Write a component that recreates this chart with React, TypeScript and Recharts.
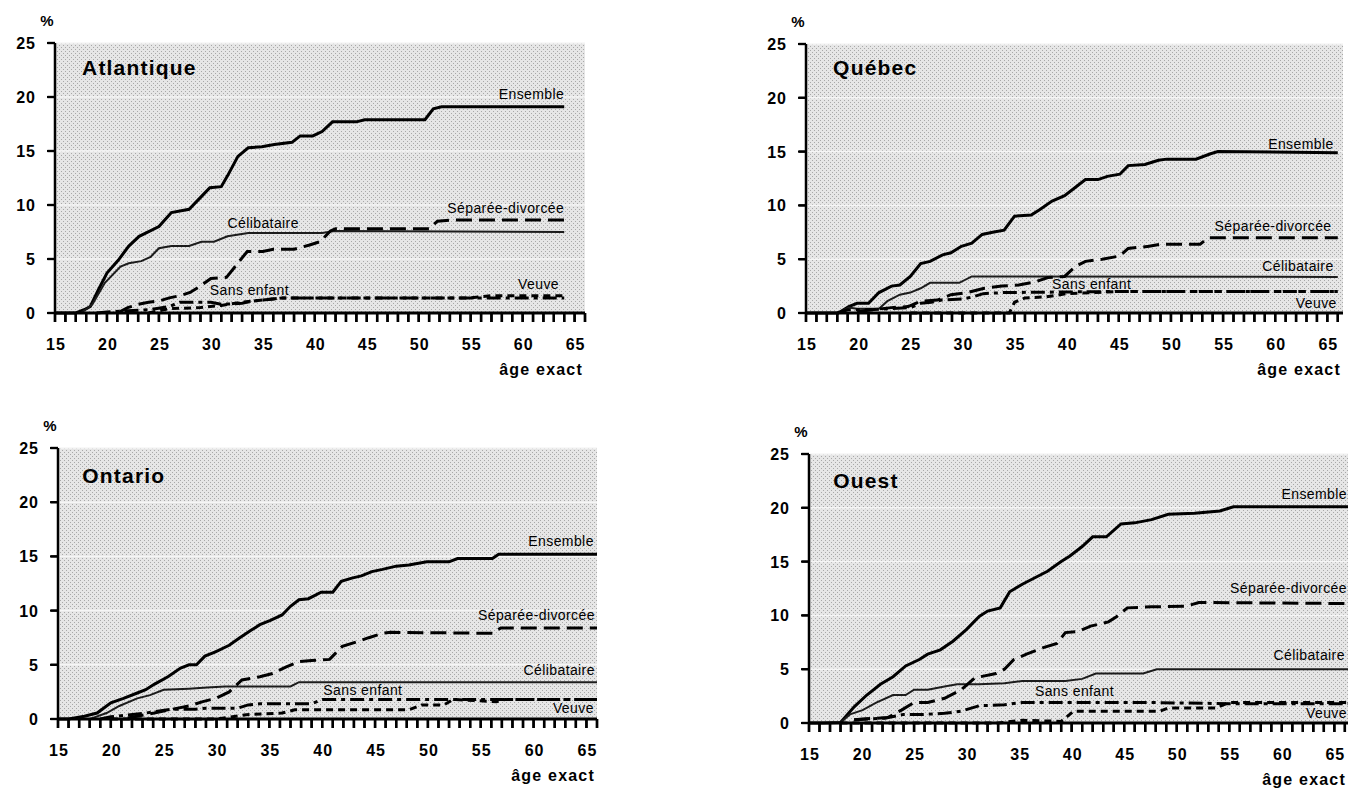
import React from 'react'
import { LineChart, Line, XAxis, YAxis, CartesianGrid, ReferenceDot } from 'recharts'

type Pt = [number, number]

// age exact (years), cumulative %
const atlantiqueEnsemble: Pt[] = [[15, 0], [17, 0], [17.8, 0.3], [18.4, 0.6], [19.2, 2.2], [20, 3.7], [21.1, 4.9], [22.1, 6.2], [23.1, 7.1], [25, 8], [26.2, 9.3], [27.9, 9.6], [29.1, 10.8], [29.9, 11.6], [31, 11.7], [31.6, 12.7], [32.6, 14.5], [33.6, 15.3], [34.9, 15.4], [36.1, 15.6], [37.8, 15.8], [38.6, 16.4], [39.8, 16.4], [40.7, 16.8], [41.7, 17.7], [44, 17.7], [44.8, 17.9], [50.6, 17.9], [51.4, 18.9], [52.2, 19.1], [64, 19.1]]
const atlantiqueCelibataire: Pt[] = [[17.5, 0], [18.6, 0.8], [19.8, 2.8], [21.3, 4.3], [22.1, 4.6], [23.3, 4.8], [24.2, 5.2], [25, 6], [26.2, 6.2], [27.9, 6.2], [29.1, 6.6], [30.3, 6.6], [31.6, 7.1], [33.6, 7.4], [40.7, 7.4], [41.9, 7.6], [64, 7.5]]
const atlantiqueSeparee: Pt[] = [[21, 0], [22, 0.5], [23, 0.8], [24, 1.0], [25, 1.1], [26, 1.4], [27, 1.6], [28, 1.9], [29, 2.5], [30, 3.2], [31.5, 3.3], [32.5, 4.5], [33.5, 5.7], [35, 5.7], [36, 5.9], [38, 5.9], [39.5, 6.3], [40.5, 6.6], [41.5, 7.6], [42, 7.8], [51, 7.8], [51.8, 8.5], [53, 8.6], [64, 8.6]]
const atlantiqueSansEnfant: Pt[] = [[19, 0], [20, 0.1], [22, 0.2], [24, 0.3], [26, 0.6], [27, 1.0], [30, 1.0], [31, 0.8], [33, 0.9], [34, 1.1], [36, 1.3], [37, 1.4], [64, 1.4]]
const atlantiqueVeuve: Pt[] = [[24, 0], [25, 0.2], [26, 0.4], [29, 0.5], [31, 0.7], [33, 1.0], [35, 1.2], [37, 1.4], [55, 1.4], [57, 1.6], [64, 1.6]]

const quebecEnsemble: Pt[] = [[15, 0], [18.1, 0], [19.1, 0.6], [19.9, 0.9], [21, 0.9], [22, 1.9], [23.2, 2.5], [24, 2.6], [25, 3.4], [26, 4.6], [26.9, 4.8], [28.1, 5.4], [28.9, 5.6], [29.9, 6.2], [30.9, 6.5], [31.9, 7.3], [32.9, 7.5], [34, 7.7], [35, 9.0], [36.6, 9.1], [37.4, 9.6], [38.6, 10.4], [39.8, 10.9], [40.6, 11.5], [41.8, 12.4], [43, 12.4], [43.9, 12.7], [45.1, 12.9], [45.9, 13.7], [47.5, 13.8], [48.8, 14.2], [49.6, 14.3], [52.4, 14.3], [53.8, 14.8], [54.5, 15.0], [66, 14.9]]
const quebecCelibataire: Pt[] = [[18.1, 0], [19.1, 0.5], [19.9, 0.4], [22, 0.4], [22.8, 1.1], [24, 1.7], [25, 1.9], [26, 2.3], [26.9, 2.8], [29.7, 2.8], [30.9, 3.4], [66, 3.35]]
const quebecSeparee: Pt[] = [[19.9, 0.15], [23.2, 0.5], [24.8, 0.6], [26, 1.1], [27.6, 1.2], [28.9, 1.7], [30.5, 1.9], [32.1, 2.3], [33.8, 2.5], [35.4, 2.6], [37, 2.9], [38.2, 3.3], [39.8, 3.4], [40.8, 4.3], [41.8, 4.8], [43.4, 5.0], [45.1, 5.3], [45.9, 6.0], [47.9, 6.2], [49.1, 6.4], [52.8, 6.4], [53.6, 7.0], [66, 7.0]]
const quebecSansEnfant: Pt[] = [[18, 0], [19, 0.3], [21, 0.3], [23, 0.4], [25, 0.5], [26, 0.9], [27, 1.0], [28, 1.2], [30, 1.3], [31, 1.5], [32, 1.8], [34, 1.9], [45, 2.0], [66, 2.0]]
const quebecVeuve: Pt[] = [[25, 0], [34.5, 0], [35, 1.0], [36, 1.4], [38, 1.5], [40, 1.8], [45, 2.0], [66, 2.0]]

const ontarioEnsemble: Pt[] = [[15, 0], [16, 0], [17.5, 0.25], [18.7, 0.55], [20, 1.5], [21.2, 1.9], [22.5, 2.4], [23.3, 2.7], [24.1, 3.2], [25.4, 3.9], [26.6, 4.7], [27.4, 5.0], [28.1, 5.0], [28.9, 5.8], [29.9, 6.2], [31.2, 6.8], [32.2, 7.5], [33.3, 8.2], [34.1, 8.7], [35.1, 9.1], [36.2, 9.6], [37, 10.4], [37.8, 11.0], [38.7, 11.1], [39.9, 11.7], [41, 11.7], [41.8, 12.7], [42.8, 13.0], [43.7, 13.2], [44.7, 13.6], [45.7, 13.8], [47, 14.1], [48.2, 14.2], [49.9, 14.5], [52, 14.5], [52.8, 14.8], [56.1, 14.8], [56.7, 15.2], [66, 15.2]]
const ontarioCelibataire: Pt[] = [[18, 0], [18.3, 0.1], [19.6, 0.55], [20.8, 1.2], [22.5, 1.9], [23.7, 2.2], [25, 2.7], [27.4, 2.8], [29.1, 2.9], [30.8, 3.0], [37, 3.0], [37.8, 3.4], [66, 3.4]]
const ontarioSeparee: Pt[] = [[21.6, 0.1], [24.1, 0.55], [25.8, 0.9], [27.4, 1.2], [28.7, 1.6], [29.9, 1.9], [31.2, 2.5], [32.4, 3.6], [34.1, 3.9], [35.3, 4.2], [36.6, 4.8], [37.8, 5.3], [39, 5.4], [40.7, 5.5], [41.9, 6.7], [43.2, 7.1], [44.4, 7.5], [45.7, 7.9], [46.5, 8.0], [56.1, 7.9], [56.9, 8.4], [66, 8.4]]
const ontarioSansEnfant: Pt[] = [[19, 0], [20, 0.2], [23.3, 0.55], [25.8, 0.9], [28, 0.9], [29, 1.0], [32, 1.0], [33, 1.3], [34.1, 1.4], [39, 1.4], [40, 1.8], [66, 1.8]]
const ontarioVeuve: Pt[] = [[20, 0], [30, 0], [32.8, 0.4], [36.2, 0.55], [37.4, 0.85], [48.2, 0.85], [49.4, 1.3], [51.5, 1.3], [52.4, 1.8], [56.5, 1.6], [57.3, 1.8], [66, 1.8]]

const ouestEnsemble: Pt[] = [[15, 0], [16.4, 0], [18, 0.05], [19.3, 1.5], [20.5, 2.6], [21.8, 3.6], [23, 4.3], [24.2, 5.3], [25.5, 5.9], [26.3, 6.4], [27.5, 6.8], [28.7, 7.6], [30, 8.7], [31.2, 9.9], [32, 10.4], [33.2, 10.7], [34.1, 12.2], [35.3, 12.9], [36.5, 13.5], [37.7, 14.1], [39, 15.0], [39.8, 15.5], [41, 16.4], [42, 17.3], [43.3, 17.3], [44.7, 18.5], [46, 18.6], [47.6, 18.9], [49.2, 19.4], [51.7, 19.5], [54.1, 19.7], [55.4, 20.1], [66.3, 20.1]]
const ouestCelibataire: Pt[] = [[18, 0.05], [18.9, 0.8], [20.1, 1.2], [21.4, 1.9], [23, 2.6], [24.2, 2.6], [25, 3.1], [26.3, 3.1], [27.9, 3.4], [29.1, 3.6], [31.2, 3.6], [33.6, 3.7], [35.3, 3.9], [39.4, 3.9], [41, 4.1], [42.3, 4.6], [46.8, 4.6], [48.1, 5.0], [66.3, 5.0]]
const ouestSeparee: Pt[] = [[19.3, 0.3], [20.5, 0.4], [22.5, 0.5], [23.8, 1.2], [25, 1.9], [26.3, 1.9], [27.9, 2.3], [29.5, 3.1], [30.8, 4.2], [32.8, 4.6], [33.6, 5.0], [34.5, 5.9], [35.7, 6.4], [37.3, 7.0], [38.6, 7.4], [39.4, 8.4], [40.6, 8.5], [41.8, 9.0], [43.5, 9.4], [44.3, 9.9], [45.3, 10.7], [47.6, 10.8], [50.9, 10.85], [52.1, 11.2], [66.3, 11.1]]
const ouestSansEnfant: Pt[] = [[19.3, 0.3], [22.2, 0.45], [24, 0.8], [25.9, 0.8], [27.9, 0.9], [29.5, 1.1], [31.2, 1.6], [33.6, 1.7], [35.3, 1.9], [47.6, 1.9], [55, 1.8], [66.3, 1.8]]
const ouestVeuve: Pt[] = [[18, 0], [33, 0], [35.3, 0.25], [39, 0.15], [40.2, 1.1], [48.4, 1.1], [49.2, 1.4], [53.7, 1.4], [55, 1.9], [66.3, 1.9]]

const yTicks = [0, 5, 10, 15, 20, 25]
const xLabelTicks = [15, 20, 25, 30, 35, 40, 45, 50, 55, 60, 65]
const years = Array.from({ length: 52 }, (_, i) => 15 + i)

const FONT = '"Liberation Sans", Arial, Helvetica, sans-serif'

const seriesStyle = [
  { name: 'Ensemble', width: 3, dash: undefined, color: '#000' },
  { name: 'Célibataire', width: 2, dash: undefined, color: '#1c1c1c' },
  { name: 'Séparée-divorcée', width: 3, dash: '16 7', color: '#000' },
  { name: 'Sans enfant', width: 3, dash: '14 5 4 5', color: '#000' },
  { name: 'Veuve', width: 3, dash: '7 5', color: '#000' },
]

type Anno = { text: string; x: number; y: number; anchor: 'start' | 'end' }

const panels = [
  {
    title: 'Atlantique', left: 55, top: 43, right: 585, bottom: 313, xMax: 66, titleAt: [17.6, 22.0],
    series: [atlantiqueEnsemble, atlantiqueCelibataire, atlantiqueSeparee, atlantiqueSansEnfant, atlantiqueVeuve],
    annos: [
      { text: 'Ensemble', x: 64, y: 19.8, anchor: 'end' },
      { text: 'Séparée-divorcée', x: 64, y: 9.3, anchor: 'end' },
      { text: 'Célibataire', x: 31.6, y: 7.9, anchor: 'start' },
      { text: 'Sans enfant', x: 29.9, y: 1.7, anchor: 'start' },
      { text: 'Veuve', x: 63.5, y: 2.2, anchor: 'end' },
    ] as Anno[],
  },
  {
    title: 'Québec', left: 806, top: 44, right: 1343, bottom: 313, xMax: 66.5, titleAt: [17.6, 22.1],
    series: [quebecEnsemble, quebecCelibataire, quebecSeparee, quebecSansEnfant, quebecVeuve],
    annos: [
      { text: 'Ensemble', x: 65.6, y: 15.2, anchor: 'end' },
      { text: 'Séparée-divorcée', x: 65.4, y: 7.6, anchor: 'end' },
      { text: 'Célibataire', x: 65.6, y: 3.9, anchor: 'end' },
      { text: 'Sans enfant', x: 38.6, y: 2.2, anchor: 'start' },
      { text: 'Veuve', x: 65.9, y: 0.5, anchor: 'end' },
    ] as Anno[],
  },
  {
    title: 'Ontario', left: 58, top: 448, right: 597, bottom: 719, xMax: 66, titleAt: [17.3, 21.8],
    series: [ontarioEnsemble, ontarioCelibataire, ontarioSeparee, ontarioSansEnfant, ontarioVeuve],
    annos: [
      { text: 'Ensemble', x: 65.7, y: 16.0, anchor: 'end' },
      { text: 'Séparée-divorcée', x: 65.8, y: 9.1, anchor: 'end' },
      { text: 'Célibataire', x: 65.8, y: 4.1, anchor: 'end' },
      { text: 'Sans enfant', x: 40.1, y: 2.2, anchor: 'start' },
      { text: 'Veuve', x: 65.7, y: 0.55, anchor: 'end' },
    ] as Anno[],
  },
  {
    title: 'Ouest', left: 809, top: 454, right: 1348, bottom: 723, xMax: 66.3, titleAt: [17.3, 21.8],
    series: [ouestEnsemble, ouestCelibataire, ouestSeparee, ouestSansEnfant, ouestVeuve],
    annos: [
      { text: 'Ensemble', x: 66.2, y: 20.8, anchor: 'end' },
      { text: 'Séparée-divorcée', x: 66.2, y: 12.1, anchor: 'end' },
      { text: 'Célibataire', x: 66.0, y: 5.9, anchor: 'end' },
      { text: 'Sans enfant', x: 36.5, y: 2.5, anchor: 'start' },
      { text: 'Veuve', x: 66.2, y: 0.5, anchor: 'end' },
    ] as Anno[],
  },
]

const AXIS_W = 50
const M_TOP = 40
const M_RIGHT = 8
const AXIS_H = 72

// tick mark on every year, number every 5 years
function XTick(props: any) {
  const { x, y, payload } = props
  return (
    <g>
      <line x1={x} x2={x} y1={y - 10} y2={y - 1} stroke="#000" strokeWidth={2.4} />
      {xLabelTicks.includes(payload.value) && (
        <text x={x + 1} y={y + 27} textAnchor="middle" fontSize={16} fontWeight="bold" letterSpacing={1} fill="#000" fontFamily={FONT}>
          {payload.value}
        </text>
      )}
    </g>
  )
}

function YTick(props: any) {
  const { x, y, payload } = props
  return (
    <g>
      <line x1={x + 11} x2={x + 19} y1={y} y2={y} stroke="#000" strokeWidth={2.2} />
      <text x={x} y={y + 6} textAnchor="end" fontSize={16} fontWeight="bold" letterSpacing={1} fill="#000" fontFamily={FONT}>
        {payload.value}
      </text>
    </g>
  )
}

function PointText(props: any) {
  const { viewBox, text, anchor, size = 14, bold = false, spacing = 0.4 } = props
  if (!viewBox) return null
  const cx = viewBox.x + viewBox.width / 2
  const cy = viewBox.y + viewBox.height / 2
  return (
    <text x={cx} y={cy} textAnchor={anchor} fontSize={size} fontWeight={bold ? 'bold' : 'normal'} letterSpacing={spacing} fill="#000" fontFamily={FONT}>
      {text}
    </text>
  )
}

function AgeLabel(props: any) {
  const { viewBox } = props
  if (!viewBox) return null
  return (
    <text x={viewBox.x + viewBox.width - 2} y={viewBox.y + 62} textAnchor="end" fontSize={16} fontWeight="bold" letterSpacing={1.2} fill="#000" fontFamily={FONT}>
      âge exact
    </text>
  )
}

function PctLabel(props: any) {
  const { viewBox } = props
  if (!viewBox) return null
  return (
    <text x={viewBox.x + viewBox.width - 8} y={viewBox.y - 17} textAnchor="middle" fontSize={15} fontWeight="bold" fill="#000" fontFamily={FONT}>
      %
    </text>
  )
}

function Panel({ p }: { p: (typeof panels)[number] }) {
  const plotW = p.right - p.left
  const plotH = p.bottom - p.top
  const width = AXIS_W + plotW + M_RIGHT
  const height = M_TOP + plotH + AXIS_H
  return (
    <div style={{ position: 'absolute', left: p.left - AXIS_W, top: p.top - M_TOP }}>
      <LineChart width={width} height={height} margin={{ top: M_TOP, right: M_RIGHT, bottom: 0, left: 0 }}>
        <CartesianGrid vertical={false} stroke="#f6f6f6" strokeWidth={1.5} fill="url(#stipple)" fillOpacity={1} />
        <XAxis
          dataKey="age"
          type="number"
          domain={[15, p.xMax]}
          ticks={years}
          interval={0}
          height={AXIS_H}
          tickSize={9}
          tickMargin={1}
          axisLine={{ stroke: '#000', strokeWidth: 3 }}
          tickLine={{ stroke: '#000', strokeWidth: 2.4 }}
          tick={<XTick />}
          label={<AgeLabel />}
        />
        <YAxis
          type="number"
          domain={[0, 25]}
          ticks={yTicks}
          interval={0}
          width={AXIS_W}
          tickSize={7}
          tickMargin={12}
          axisLine={{ stroke: '#000', strokeWidth: 2.5 }}
          tickLine={{ stroke: '#000', strokeWidth: 2.2 }}
          tick={<YTick />}
          label={<PctLabel />}
        />
        {p.series.map((pts, i) => (
          <Line
            key={seriesStyle[i].name}
            name={seriesStyle[i].name}
            data={pts.map(([age, v]) => ({ age, v }))}
            dataKey="v"
            type="linear"
            stroke={seriesStyle[i].color}
            strokeWidth={seriesStyle[i].width}
            strokeDasharray={seriesStyle[i].dash}
            dot={false}
            activeDot={false}
            isAnimationActive={false}
          />
        ))}
        <ReferenceDot
          x={p.titleAt[0]}
          y={p.titleAt[1]}
          r={1}
          fill="none"
          stroke="none"
          ifOverflow="visible"
          label={<PointText text={p.title} anchor="start" size={21} bold spacing={1.2} />}
        />
        {p.annos.map((a) => (
          <ReferenceDot
            key={a.text}
            x={a.x}
            y={a.y}
            r={1}
            fill="none"
            stroke="none"
            ifOverflow="visible"
            label={<PointText text={a.text} anchor={a.anchor} />}
          />
        ))}
      </LineChart>
    </div>
  )
}

export default function App() {
  return (
    <div style={{ position: 'absolute', left: 0, top: 0, width: 1349, height: 788, overflow: 'hidden', background: '#fff', fontFamily: FONT }}>
      <svg width={0} height={0} style={{ position: 'absolute' }}>
        <defs>
          <pattern id="stipple" width={4} height={4} patternUnits="userSpaceOnUse">
            <rect width={4} height={4} fill="#e6e6e6" />
            <rect x={0} y={0} width={1} height={1} fill="#a8a8a8" />
            <rect x={2} y={2} width={1} height={1} fill="#a8a8a8" />
          </pattern>
        </defs>
      </svg>
      {panels.map((p) => (
        <Panel key={p.title} p={p} />
      ))}
    </div>
  )
}
